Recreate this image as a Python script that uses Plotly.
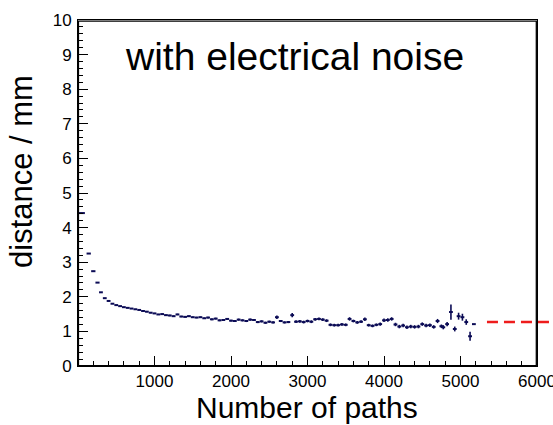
import plotly.graph_objects as go

# Bin centres (number of paths), bin half widths and mean distance (mm)
x_centers = [45, 140, 200, 255, 300, 350, 400, 450, 500, 550,
             600, 650, 700, 750, 800, 850, 900, 950, 1000, 1050,
             1100, 1150, 1200, 1250, 1300, 1350, 1400, 1450, 1500, 1550,
             1600, 1650, 1700, 1750, 1800, 1850, 1900, 1950, 2000, 2050,
             2100, 2150, 2200, 2250, 2300, 2350, 2400, 2450, 2500, 2550,
             2600, 2650, 2700, 2750, 2800, 2850, 2900, 2950, 3000, 3050,
             3100, 3150, 3200, 3250, 3300, 3350, 3400, 3450, 3500, 3550,
             3600, 3650, 3700, 3750, 3800, 3850, 3900, 3950, 4000, 4050,
             4100, 4150, 4200, 4250, 4300, 4350, 4400, 4450, 4500, 4550,
             4600, 4650, 4700, 4750, 4775, 4825, 4875, 4925, 4975, 5025,
             5075, 5125, 5175]
bin_half_width = [45, 28, 28, 27, 25, 25, 25, 25, 25, 25,
                  25, 25, 25, 25, 25, 25, 25, 25, 25, 25,
                  25, 25, 25, 25, 25, 25, 25, 25, 25, 25,
                  25, 25, 25, 25, 25, 25, 25, 25, 25, 25,
                  25, 25, 25, 25, 25, 25, 25, 25, 25, 25,
                  25, 25, 25, 25, 25, 25, 25, 25, 25, 25,
                  25, 25, 25, 25, 25, 25, 25, 25, 25, 25,
                  25, 25, 25, 25, 25, 25, 25, 25, 25, 25,
                  25, 25, 25, 25, 25, 25, 25, 25, 25, 25,
                  25, 25, 25, 25, 25, 25, 25, 25, 25, 25,
                  25, 25, 25]
distance = [4.42, 3.25, 2.74, 2.41, 2.13, 1.96, 1.88, 1.80, 1.76, 1.73,
            1.70, 1.68, 1.66, 1.64, 1.62, 1.59, 1.57, 1.54, 1.52, 1.49,
            1.50, 1.47, 1.46, 1.44, 1.49, 1.43, 1.42, 1.44, 1.41, 1.40,
            1.41, 1.38, 1.40, 1.35, 1.37, 1.32, 1.33, 1.36, 1.31, 1.30,
            1.34, 1.32, 1.30, 1.34, 1.33, 1.27, 1.29, 1.25, 1.28, 1.26,
            1.41, 1.30, 1.26, 1.27, 1.47, 1.28, 1.29, 1.27, 1.30, 1.28,
            1.35, 1.36, 1.34, 1.31, 1.19, 1.18, 1.18, 1.20, 1.19, 1.36,
            1.30, 1.26, 1.28, 1.35, 1.18, 1.16, 1.19, 1.21, 1.32, 1.33,
            1.36, 1.20, 1.14, 1.17, 1.12, 1.14, 1.13, 1.14, 1.21, 1.17,
            1.18, 1.13, 1.30, 1.15, 1.12, 1.21, 1.56, 1.07, 1.44, 1.41,
            1.27, 0.86, 1.21]
distance_err = [0.01, 0.01, 0.01, 0.01, 0.01, 0.01, 0.01, 0.01, 0.01, 0.01,
                0.01, 0.01, 0.01, 0.01, 0.01, 0.015, 0.015, 0.015, 0.015, 0.015,
                0.02, 0.02, 0.02, 0.02, 0.02, 0.02, 0.02, 0.02, 0.02, 0.02,
                0.02, 0.02, 0.025, 0.025, 0.025, 0.025, 0.025, 0.025, 0.025, 0.025,
                0.03, 0.03, 0.03, 0.03, 0.03, 0.03, 0.03, 0.03, 0.03, 0.03,
                0.05, 0.03, 0.03, 0.03, 0.06, 0.04, 0.04, 0.04, 0.04, 0.04,
                0.04, 0.04, 0.04, 0.04, 0.04, 0.04, 0.04, 0.04, 0.04, 0.05,
                0.04, 0.04, 0.04, 0.05, 0.04, 0.04, 0.04, 0.05, 0.05, 0.05,
                0.05, 0.05, 0.05, 0.05, 0.05, 0.05, 0.05, 0.05, 0.05, 0.05,
                0.05, 0.05, 0.06, 0.05, 0.06, 0.06, 0.22, 0.07, 0.10, 0.10,
                0.08, 0.13, 0.0]

reference_level = 1.27

x_range = [0, 6000]
y_range = [0, 10]
x_tick_values = [1000, 2000, 3000, 4000, 5000, 6000]
y_tick_values = [0, 1, 2, 3, 4, 5, 6, 7, 8, 9, 10]

title_text = "with electrical noise"
x_title = "Number of paths"
y_title = "distance / mm"

FONT = "Liberation Sans, Arial, sans-serif"
DATA_COLOR = "#0b0b55"

fig = go.Figure()
fig.add_trace(go.Scatter(
    x=x_centers, y=distance, mode="markers",
    marker=dict(size=2, color=DATA_COLOR, opacity=0),
    error_x=dict(type="data", array=bin_half_width, symmetric=True,
                 color=DATA_COLOR, thickness=2, width=0),
    error_y=dict(type="data", array=distance_err, symmetric=True,
                 color=DATA_COLOR, thickness=1.6, width=0),
    cliponaxis=False,
    hoverinfo="skip",
))

# frame of the plot area (drawn a hair inside the edges)
fig.add_shape(type="rect", xref="paper", yref="paper",
              x0=0.001, x1=0.9985, y0=0.001, y1=0.997,
              line=dict(color="black", width=1.3), fillcolor="rgba(0,0,0,0)", layer="above")

# red dashed reference line extending beyond the frame
fig.add_shape(type="line", xref="paper", yref="y",
              x0=0.891, x1=1.05, y0=reference_level, y1=reference_level,
              line=dict(color="#ee1c1c", width=2.6, dash="11px,6px"))

axis_common = dict(
    showline=True, linecolor="black", linewidth=1, mirror=True,
    ticks="inside", ticklen=10, tickwidth=1, tickcolor="black",
    showgrid=False, zeroline=False, automargin=False,
    tickfont=dict(family=FONT, size=17, color="black"),
    ticklabeloverflow="allow",
)

fig.update_xaxes(range=x_range, tickvals=x_tick_values,
                 ticktext=[str(v) for v in x_tick_values],
                 minor=dict(ticks="inside", ticklen=5, tickwidth=1, tickcolor="black",
                            dtick=200, tick0=0, showgrid=False),
                 ticklabelstandoff=0,
                 **axis_common)
fig.update_yaxes(range=y_range, tickvals=y_tick_values,
                 ticktext=[str(v) for v in y_tick_values],
                 minor=dict(ticks="inside", ticklen=5, tickwidth=1, tickcolor="black",
                            dtick=0.2, tick0=0, showgrid=False),
                 ticklabelstandoff=2,
                 **axis_common)

fig.add_annotation(text=title_text, xref="paper", yref="paper",
                   x=0.4706, y=(366 - 57) / 346, xanchor="center", yanchor="middle",
                   showarrow=False, font=dict(family=FONT, size=39, color="black"))
fig.add_annotation(text=x_title, xref="paper", yref="paper",
                   x=0.499, y=(366 - 407) / 346, xanchor="center", yanchor="middle",
                   showarrow=False, font=dict(family=FONT, size=30, color="black"))
fig.add_annotation(text=y_title, xref="paper", yref="paper",
                   x=(21 - 78) / 459, y=(366 - 172) / 346, xanchor="center", yanchor="middle",
                   textangle=-90, showarrow=False,
                   font=dict(family=FONT, size=31, color="black"))

fig.update_layout(width=553, height=425,
                  margin=dict(l=78, r=16, t=20, b=59, autoexpand=False),
                  paper_bgcolor="white", plot_bgcolor="white",
                  showlegend=False)

fig.write_html("out.html")
